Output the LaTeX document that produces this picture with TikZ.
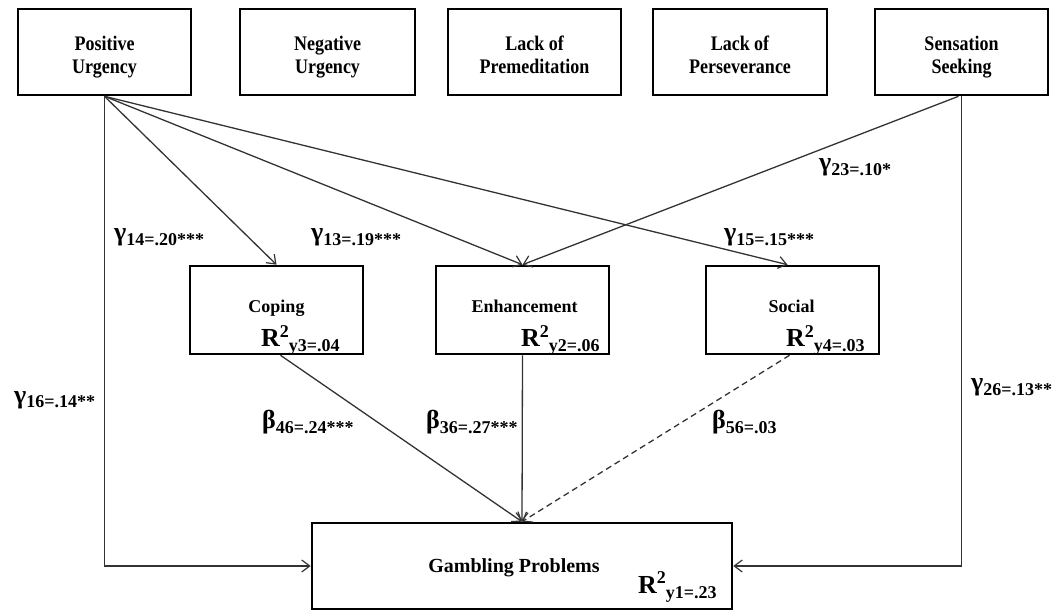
\documentclass[tikz,border=0pt]{standalone}
\usepackage{fontspec}
\setmainfont{Liberation Serif}
\usetikzlibrary{arrows.meta}

% path coefficient: large Greek letter followed by a lowered index and value
\newcommand{\pathcoef}[2]{{\fontsize{26}{26}\selectfont #1}\raisebox{-4.5pt}{\fontsize{18}{18}\selectfont #2}}
% explained variance: R, raised 2, lowered index
\newcommand{\rsquare}[1]{{\fontsize{26}{26}\selectfont R}\raisebox{9.5pt}{\fontsize{18}{18}\selectfont 2}\raisebox{-5pt}{\fontsize{18}{18}\selectfont #1}}
% two-line trait name, set a little taller than wide
\newcommand{\traitname}[2]{\scalebox{1}[1.15]{\begin{tabular}{@{}c@{}}#1\\[-1pt]#2\end{tabular}}}

\tikzset{
  box/.style={draw=black, line width=2.6pt, minimum height=86pt, inner sep=0pt},
  midbox/.style={box, minimum width=173pt, minimum height=88pt},
  toplabel/.style={inner sep=0pt, font=\bfseries\fontsize{18}{21}\selectfont},
  boxtitle/.style={inner sep=0pt, anchor=base, font=\bfseries\fontsize{18}{21}\selectfont},
  rlabel/.style={inner sep=0pt, anchor=base west, font=\bfseries},
  coef/.style={inner sep=0pt, anchor=base west, font=\bfseries},
  link/.style={draw=black!80, line width=1.3pt,
    -{Straight Barb[length=8pt,width=12pt,line width=1.2pt]}},
}

\begin{document}
\begin{tikzpicture}[x=1pt, y=-1pt]
\useasboundingbox (0,0) rectangle (1061,612);

% impulsivity traits
\node[box, minimum width=173pt] (pu)  at (104.5,52) {};
\node[box, minimum width=175pt] (nu)  at (327.5,52) {};
\node[box, minimum width=173pt] (lp)  at (534.5,52) {};
\node[box, minimum width=174pt] (lps) at (740,52)   {};
\node[box, minimum width=173pt] (ss)  at (961.5,52) {};
\node[toplabel] (put)  at (104.5,57) {\traitname{Positive}{Urgency}};
\node[toplabel] (nut)  at (327.5,57) {\traitname{Negative}{Urgency}};
\node[toplabel] (lpt)  at (534.5,57) {\traitname{Lack of}{Premeditation}};
\node[toplabel] (lpst) at (740,57)   {\traitname{Lack of}{Perseverance}};
\node[toplabel] (sst)  at (961.5,57) {\traitname{Sensation}{Seeking}};

% gambling motives
\node[midbox] (cop) at (276.5,310) {};
\node[midbox] (enh) at (522.5,310) {};
\node[midbox] (soc) at (792.5,310) {};
\node[boxtitle] (copt) at (276.5,313) {Coping};
\node[boxtitle] (enht) at (524.5,313) {Enhancement};
\node[boxtitle] (soct) at (791.5,313) {Social};
\node[rlabel] (copr) at (261,347) {\rsquare{y3=.04}};
\node[rlabel] (enhr) at (521,347) {\rsquare{y2=.06}};
\node[rlabel] (socr) at (786,347) {\rsquare{y4=.03}};

% outcome
\node[box, minimum width=420pt] (bot) at (522,566) {};
\node[boxtitle, font=\bfseries\fontsize{20}{24}\selectfont] (bott) at (514,572) {Gambling Problems};
\node[rlabel] (botr) at (638,593) {\rsquare{y1=.23}};

% paths
\draw[link] (pu.south) -- (cop.north);
\draw[link] (pu.south) -- (enh.north);
\draw[link] (pu.south) -- ([xshift=-5pt]soc.north);
\draw[link] (pu.south) |- (bot.west);
\draw[link] ([xshift=-3pt]ss.south) -- (enh.north);
\draw[link] (ss.south) |- (bot.east);
\draw[link] ([xshift=4pt]cop.south) -- (bot.north);
\draw[link] (enh.south) -- (bot.north);
\draw[link, dash pattern=on 6pt off 4pt] ([xshift=-3pt]soc.south) -- (bot.north);

% coefficients
\node[coef] (g14) at (114,241)   {\pathcoef{γ}{14=.20***}};
\node[coef] (g13) at (311,241)   {\pathcoef{γ}{13=.19***}};
\node[coef] (g15) at (724,241)   {\pathcoef{γ}{15=.15***}};
\node[coef] (g23) at (819,171)   {\pathcoef{γ}{23=.10*}};
\node[coef] (g16) at (14,403)    {\pathcoef{γ}{16=.14**}};
\node[coef] (g26) at (971,391)   {\pathcoef{γ}{26=.13**}};
\node[coef] (b46) at (262,428.5) {\pathcoef{β}{46=.24***}};
\node[coef] (b36) at (426,428.5) {\pathcoef{β}{36=.27***}};
\node[coef] (b56) at (712,428.5) {\pathcoef{β}{56=.03}};
\end{tikzpicture}
\end{document}
